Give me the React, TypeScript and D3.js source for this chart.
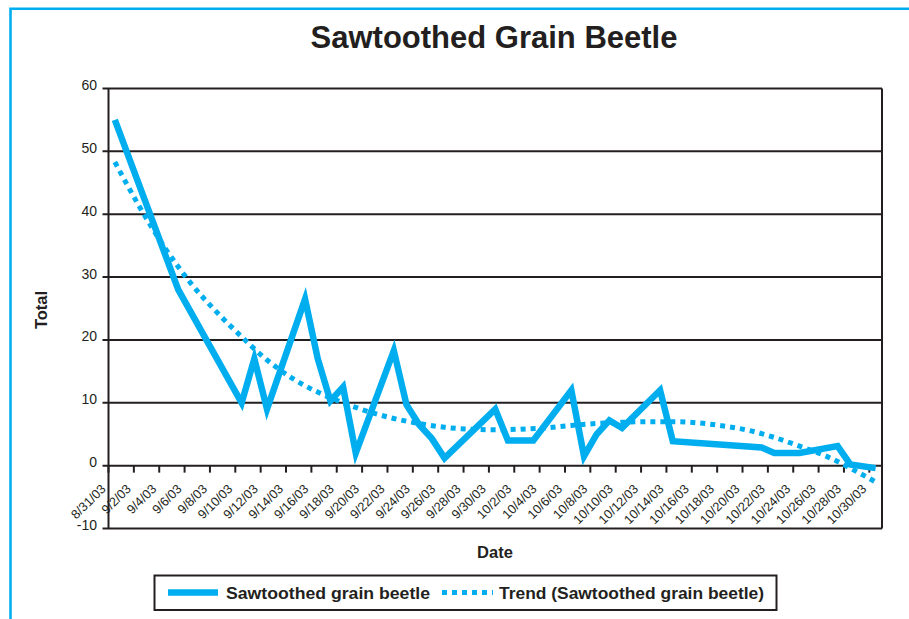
import React from "react";
import * as d3 from "d3";

// ---- data ----
const obsDates = [
  "8/31/03", "9/5/03", "9/10/03", "9/11/03", "9/12/03", "9/15/03", "9/16/03", "9/17/03",
  "9/18/03", "9/19/03", "9/22/03", "9/23/03", "9/24/03", "9/25/03", "9/26/03", "9/30/03",
  "10/1/03", "10/3/03", "10/6/03", "10/7/03", "10/8/03", "10/9/03", "10/10/03", "10/13/03",
  "10/14/03", "10/21/03", "10/22/03", "10/24/03", "10/27/03", "10/28/03", "10/30/03",
];
const beetleValues = [
  55, 28, 10, 17, 9, 26.5, 17, 10.3,
  12.5, 2, 18.3, 9.7, 6.5, 4.3, 1.2, 9,
  4, 4, 12, 1.5, 5, 7.2, 6, 12,
  3.9, 2.9, 2, 2, 3.1, 0.2, -0.4,
];
const tickLabels = [
  "8/31/03", "9/2/03", "9/4/03", "9/6/03", "9/8/03", "9/10/03", "9/12/03", "9/14/03",
  "9/16/03", "9/18/03", "9/20/03", "9/22/03", "9/24/03", "9/26/03", "9/28/03", "9/30/03",
  "10/2/03", "10/4/03", "10/6/03", "10/8/03", "10/10/03", "10/12/03", "10/14/03", "10/16/03",
  "10/18/03", "10/20/03", "10/22/03", "10/24/03", "10/26/03", "10/28/03", "10/30/03",
];
// trend values read at each tick date
const trendValues = [
  48.3, 41, 34.5, 29, 24.5, 20.5, 16.8, 13.9,
  11.7, 10, 8.6, 7.5, 6.7, 6.1, 5.8, 5.7,
  5.8, 6.0, 6.4, 6.7, 6.9, 7.0, 7.0, 6.8,
  6.3, 5.6, 4.5, 3.1, 1.6, -0.4, -2.6,
];
const yTicks = [-10, 0, 10, 20, 30, 40, 50, 60];

const BLUE = "#00AEEF";
const INK = "#231F20";
const FONT = "'Liberation Sans', Arial, Helvetica, sans-serif";

const parse = d3.utcParse("%m/%d/%y");

export default function App() {
  const left = 108.5, right = 882, top = 88.5, bottom = 528.5;
  const x = d3
    .scaleUtc()
    .domain([parse("8/31/03") as Date, parse("10/31/03") as Date])
    .range([left, right]);
  const y = d3.scaleLinear().domain([-10, 60]).range([bottom, top]);
  const mid = (s: string) => x(d3.utcHour.offset(parse(s) as Date, 12));

  const line = d3
    .line<[number, number]>()
    .x((d) => d[0])
    .y((d) => d[1]);
  const dataPath = line(obsDates.map((d, i) => [mid(d), y(beetleValues[i])]));
  const trendPath = line.curve(d3.curveMonotoneX)(
    tickLabels.map((d, i) => [mid(d), y(trendValues[i])])
  );
  const y0 = y(0);

  return (
    <svg
      width={909}
      height={619}
      style={{ position: "absolute", left: 0, top: 0, background: "#fff" }}
      fontFamily={FONT}
    >
      <rect x={0} y={0} width={909} height={619} fill="#fff" />
      <path d="M10.5,640 V8.7 H920" fill="none" stroke={BLUE} strokeWidth={2.6} />
      <text x={494} y={48} textAnchor="middle" fontSize={31} fontWeight="bold" fill={INK}>
        Sawtoothed Grain Beetle
      </text>

      {/* grid + y axis */}
      {yTicks.map((t) => (
        <g key={t}>
          <line x1={left - 6} x2={right} y1={y(t)} y2={y(t)} stroke={INK} strokeWidth={2} />
          <text x={97} y={y(t) + 1.5} textAnchor="end" fontSize={14} fill={INK}>
            {t}
          </text>
        </g>
      ))}
      <line x1={left} x2={left} y1={top} y2={bottom} stroke={INK} strokeWidth={2} />
      <line x1={right} x2={right} y1={top} y2={bottom} stroke={INK} strokeWidth={2} />

      {/* x axis ticks */}
      {tickLabels.map((t) => {
        const tx = x(parse(t) as Date);
        return (
          <g key={t}>
            <line x1={tx} x2={tx} y1={y0} y2={y0 + 7} stroke={INK} strokeWidth={2} />
            <text
              transform={`translate(${tx - 2},${y0 + 24}) rotate(-45)`}
              textAnchor="end"
              fontSize={12.8}
              fill={INK}
            >
              {t}
            </text>
          </g>
        );
      })}

      {/* series */}
      <path
        d={trendPath || ""}
        fill="none"
        stroke={BLUE}
        strokeWidth={5}
        strokeDasharray="5 5"
      />
      <path
        d={dataPath || ""}
        fill="none"
        stroke={BLUE}
        strokeWidth={6.5}
        strokeLinejoin="miter"
      />

      <text
        transform="translate(47,310) rotate(-90)"
        textAnchor="middle"
        fontSize={16.5}
        fontWeight="bold"
        fill={INK}
      >
        Total
      </text>
      <text x={495} y={558} textAnchor="middle" fontSize={16.5} fontWeight="bold" fill={INK}>
        Date
      </text>

      {/* legend */}
      <rect x={154.5} y={575.5} width={622} height={34.5} fill="#fff" stroke={INK} strokeWidth={2} />
      <line x1={168} x2={218} y1={592.5} y2={592.5} stroke={BLUE} strokeWidth={6.5} />
      <text
        x={226}
        y={599}
        fontSize={17}
        fontWeight="bold"
        fill={INK}
        textLength={204}
        lengthAdjust="spacingAndGlyphs"
      >
        Sawtoothed grain beetle
      </text>
      <line
        x1={442}
        x2={493}
        y1={592.5}
        y2={592.5}
        stroke={BLUE}
        strokeWidth={5}
        strokeDasharray="5 5"
      />
      <text
        x={499}
        y={599}
        fontSize={17}
        fontWeight="bold"
        fill={INK}
        textLength={265}
        lengthAdjust="spacingAndGlyphs"
      >
        Trend (Sawtoothed grain beetle)
      </text>
    </svg>
  );
}
